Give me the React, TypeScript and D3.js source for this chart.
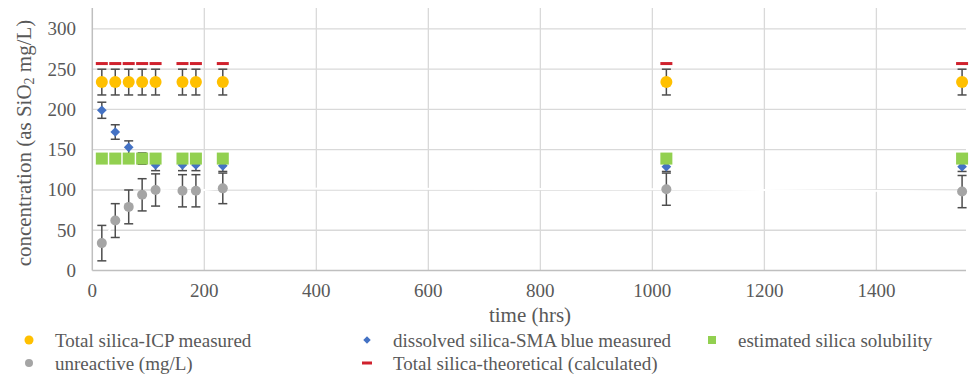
import React from "react";
import * as d3 from "d3";

// sampling times (hrs)
const times = [17, 41, 65, 89, 113, 161, 185, 233, 1025, 1553];

const icpMeasured = [234, 234, 234, 234, 234, 234, 234, 234, 234, 234];
const icpError = [16, 16, 16, 16, 16, 16, 16, 16, 16, 16];

const smaMeasured = [199, 172, 153, 139, 131, 131, 131, 130, 129, 129];
const smaError = [10, 9, 8, 7, 7, 7, 7, 7, 6, 6];

const solubility = [139, 139, 139, 139, 139, 139, 139, 139, 139, 139];

const unreactive = [34, 62, 79, 94, 100, 99, 99, 102, 101, 98];
const unreactiveError = [22, 21, 21, 20, 20, 20, 20, 19, 20, 20];

const theoretical = [257, 257, 257, 257, 257, 257, 257, 257, 257, 257];

const xTicks = [0, 200, 400, 600, 800, 1000, 1200, 1400];
const yTicks = [0, 50, 100, 150, 200, 250, 300];

const W = 977;
const H = 374;
const margin = { top: 8, right: 11, bottom: 103.5, left: 92.3 };
const FONT = "'Liberation Serif', 'Times New Roman', serif";
const TEXT = "#595959";
const ERR = "#4d4d4d";

const C = {
  icp: "#FFC000",
  sma: "#4472C4",
  sol: "#92D050",
  unr: "#A5A5A5",
  theo: "#D0212D",
};

function ErrorBars(props: { xs: number[]; ys: number[]; errs: number[]; x: any; y: any }) {
  const { xs, ys, errs, x, y } = props;
  return (
    <g stroke={ERR} strokeWidth={1.5}>
      {xs.map((t, i) => {
        const cx = x(t);
        const hi = y(ys[i] + errs[i]);
        const lo = y(ys[i] - errs[i]);
        return (
          <g key={i}>
            <line x1={cx} x2={cx} y1={hi} y2={lo} />
            <line x1={cx - 4.5} x2={cx + 4.5} y1={hi} y2={hi} />
            <line x1={cx - 4.5} x2={cx + 4.5} y1={lo} y2={lo} />
          </g>
        );
      })}
    </g>
  );
}

export default function App() {
  const innerW = W - margin.left - margin.right;
  const innerH = H - margin.top - margin.bottom;

  const x = d3.scaleLinear().domain([0, 1560]).range([margin.left, margin.left + innerW]);
  const y = d3.scaleLinear().domain([0, 326]).range([margin.top + innerH, margin.top]);

  const diamond = d3.symbol().type(d3.symbolDiamond2).size(60)();
  const whiteLine = d3
    .line<number>()
    .x((d, i) => x(times[i]))
    .y((d) => y(d))(unreactive);

  const legendRows = [
    { label: "Total silica-ICP measured", kind: "icp", lx: 29, ly: 340 },
    { label: "dissolved silica-SMA blue measured", kind: "sma", lx: 367, ly: 340 },
    { label: "estimated silica solubility", kind: "sol", lx: 712, ly: 340 },
    { label: "unreactive (mg/L)", kind: "unr", lx: 29, ly: 363 },
    { label: "Total silica-theoretical (calculated)", kind: "theo", lx: 367, ly: 363 },
  ];

  const legendMarker = (kind: string, lx: number, ly: number) => {
    if (kind === "icp") return <circle cx={lx} cy={ly} r={4.5} fill={C.icp} />;
    if (kind === "unr") return <circle cx={lx} cy={ly} r={4} fill={C.unr} />;
    if (kind === "sma")
      return <path d={d3.symbol().type(d3.symbolDiamond2).size(36)()!} transform={`translate(${lx},${ly})`} fill={C.sma} />;
    if (kind === "sol") return <rect x={lx - 4} y={ly - 4} width={8} height={8} fill={C.sol} />;
    return <rect x={lx - 5} y={ly - 1.5} width={10} height={3} fill={C.theo} />;
  };

  return (
    <svg width={W} height={H} style={{ position: "absolute", left: 0, top: 0, background: "#fff", fontFamily: FONT }}>
      {/* gridlines */}
      <g stroke="#D9D9D9" strokeWidth={1.3}>
        {yTicks.filter((t) => t > 0).map((t) => (
          <line key={t} x1={x(0)} x2={x(1560)} y1={y(t)} y2={y(t)} />
        ))}
        {xTicks.filter((t) => t > 0).map((t) => (
          <line key={t} x1={x(t)} x2={x(t)} y1={y(326)} y2={y(0)} />
        ))}
      </g>
      {/* axes */}
      <g stroke="#BFBFBF" strokeWidth={1.5}>
        <line x1={x(0)} x2={x(0)} y1={y(326)} y2={y(0)} />
        <line x1={x(0)} x2={x(1560)} y1={y(0)} y2={y(0)} />
      </g>

      {/* unreactive series line is white in the original */}
      <path d={whiteLine!} fill="none" stroke="#fff" strokeWidth={2} />

      {/* tick labels */}
      <g fill={TEXT} fontSize={19} style={{ fontFamily: FONT }}>
        {yTicks.map((t) => (
          <text key={t} x={76} y={y(t)} textAnchor="end" dominantBaseline="central">
            {t}
          </text>
        ))}
        {xTicks.map((t) => (
          <text key={t} x={x(t)} y={297} textAnchor="middle">
            {t}
          </text>
        ))}
      </g>

      {/* axis titles */}
      <text x={530} y={322} textAnchor="middle" fontSize={21} fill={TEXT} style={{ fontFamily: FONT }}>
        time (hrs)
      </text>
      <text
        transform={`translate(24,143) rotate(-90)`}
        textAnchor="middle"
        dominantBaseline="central"
        fontSize={21}
        fill={TEXT}
        style={{ fontFamily: FONT }}
      >
        concentration (as SiO<tspan fontSize={14} dy={5}>2</tspan>
        <tspan dy={-5}> mg/L)</tspan>
      </text>

      {/* total silica ICP */}
      <ErrorBars xs={times} ys={icpMeasured} errs={icpError} x={x} y={y} />
      {times.map((t, i) => (
        <circle key={"icp" + i} cx={x(t)} cy={y(icpMeasured[i])} r={6} fill={C.icp} />
      ))}

      {/* dissolved silica SMA */}
      <ErrorBars xs={times} ys={smaMeasured} errs={smaError} x={x} y={y} />
      {times.map((t, i) => (
        <path key={"sma" + i} d={diamond!} transform={`translate(${x(t)},${y(smaMeasured[i])})`} fill={C.sma} />
      ))}

      {/* estimated solubility */}
      {times.map((t, i) => (
        <rect key={"sol" + i} x={x(t) - 6} y={y(solubility[i]) - 6} width={12} height={12} fill={C.sol} />
      ))}

      {/* unreactive */}
      <ErrorBars xs={times} ys={unreactive} errs={unreactiveError} x={x} y={y} />
      {times.map((t, i) => (
        <circle key={"unr" + i} cx={x(t)} cy={y(unreactive[i])} r={5} fill={C.unr} />
      ))}

      {/* theoretical */}
      {times.map((t, i) => (
        <rect key={"th" + i} x={x(t) - 6} y={y(theoretical[i]) - 1.5} width={12} height={3} fill={C.theo} />
      ))}

      {/* legend */}
      <g fontSize={19} fill={TEXT} style={{ fontFamily: FONT }}>
        {legendRows.map((r) => (
          <g key={r.label}>
            {legendMarker(r.kind, r.lx, r.ly)}
            <text x={r.lx + 26} y={r.ly} dominantBaseline="central">
              {r.label}
            </text>
          </g>
        ))}
      </g>
    </svg>
  );
}
